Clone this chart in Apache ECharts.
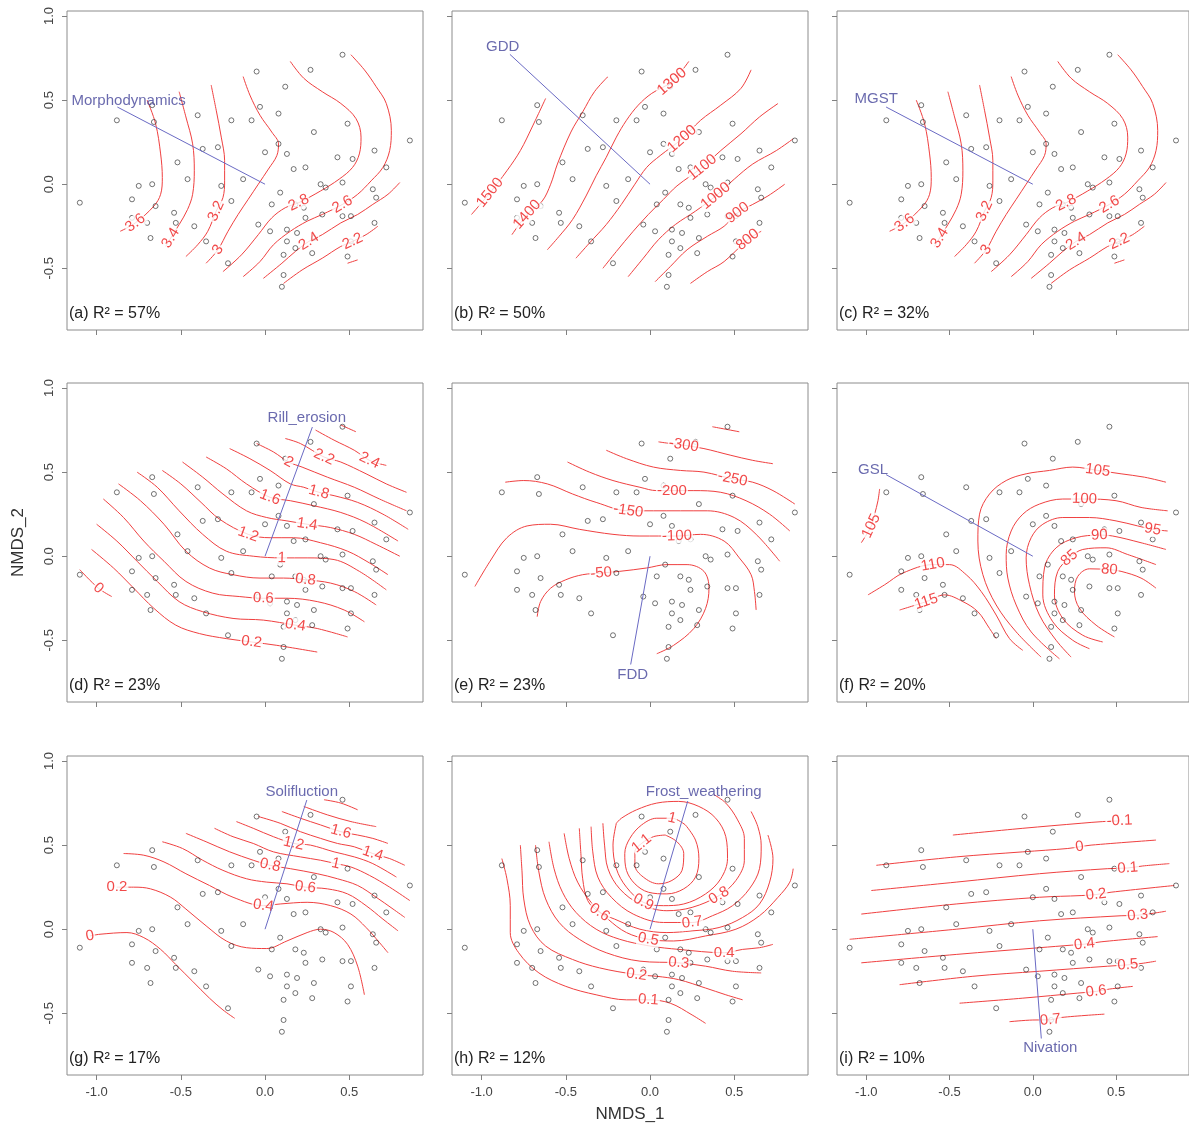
<!DOCTYPE html>
<html>
<head>
<meta charset="utf-8">
<script src="https://cdn.jsdelivr.net/npm/echarts@6/dist/echarts.min.js"></script>
<style>
  html, body { margin: 0; padding: 0; background: #ffffff; }
  #chart { width: 1189px; height: 1126px; }
</style>
</head>
<body>
<div id="chart"></div>
<script>
// NMDS site scores: [NMDS_1, NMDS_2]
const siteScores = [
  [-1.10,-0.11],[-0.88,0.38],[-0.67,0.47],[-0.66,0.37],[-0.75,-0.01],[-0.67,0.00],[-0.79,-0.09],[-0.79,-0.20],
  [-0.65,-0.13],[-0.70,-0.23],[-0.68,-0.32],[-0.52,0.13],[-0.37,0.21],[-0.40,0.41],[-0.28,0.22],[-0.46,0.03],
  [-0.54,-0.17],[-0.53,-0.23],[-0.42,-0.25],[-0.35,-0.34],[-0.22,-0.47],[-0.26,-0.01],[-0.20,-0.10],[-0.20,0.38],
  [-0.13,0.03],[-0.08,0.38],[-0.05,0.67],[-0.03,0.46],[0.00,0.19],[0.08,0.42],[0.08,0.24],[0.12,0.58],
  [0.13,0.18],[0.17,0.09],[0.24,0.10],[0.27,0.68],[0.29,0.31],[0.46,0.77],[0.49,0.36],[0.43,0.16],
  [0.52,0.15],[0.65,0.20],[0.72,0.10],[0.86,0.26],[0.33,0.00],[0.36,-0.02],[0.46,0.01],[0.64,-0.03],
  [0.66,-0.08],[0.09,-0.05],[0.04,-0.12],[0.18,-0.12],[0.23,-0.14],[0.24,-0.20],[0.34,-0.18],[0.46,-0.19],
  [0.51,-0.19],[0.65,-0.23],[-0.04,-0.24],[0.03,-0.28],[0.13,-0.27],[0.19,-0.29],[0.29,-0.32],[0.13,-0.34],
  [0.18,-0.38],[0.11,-0.42],[0.28,-0.41],[0.51,-0.34],[0.49,-0.43],[0.11,-0.54],[0.10,-0.61]
];

const panelTags = ['a', 'b', 'c', 'd', 'e', 'f', 'g', 'h', 'i'];
const panelR2 = [57, 50, 32, 23, 23, 20, 17, 12, 10];

// fitted environmental vectors
const vectorNames = ['Morphodynamics', 'GDD', 'MGST', 'Rill_erosion', 'FDD', 'GSL', 'Solifluction', 'Frost_weathering', 'Nivation'];
const vectorTips = [[-0.877,0.459],[-0.832,0.772],[-0.881,0.459],[0.281,0.768],[-0.115,-0.644],[-0.881,0.485],[0.248,0.768],[0.224,0.762],[0.051,-0.650]];
const vectorNameAt = [[-0.81,0.495],[-0.875,0.816],[-0.941,0.505],[0.248,0.823],[-0.103,-0.703],[-0.960,0.515],[0.218,0.818],[0.319,0.818],[0.105,-0.703]];

const xTicks = [-1.0, -0.5, 0.0, 0.5];
const yTicks = [-0.5, 0.0, 0.5, 1.0];
const xRange = [-1.176, 0.938];
const yRange = [-0.867, 1.030];

// ordisurf isolines: [level, vertices, label anchor]
const isoA = [
  ['3.6', [[-0.70,0.50],[-0.65,0.36],[-0.62,0.18],[-0.61,0.04],[-0.62,-0.06],[-0.66,-0.13],[-0.77,-0.23],[-0.86,-0.28]], [-0.77,-0.23]],
  ['3.4', [[-0.51,0.55],[-0.47,0.40],[-0.43,0.24],[-0.42,0.08],[-0.43,-0.06],[-0.46,-0.15],[-0.51,-0.24],[-0.56,-0.32],[-0.59,-0.37]], [-0.56,-0.32]],
  ['3.2', [[-0.32,0.59],[-0.29,0.44],[-0.26,0.28],[-0.24,0.14],[-0.24,0.02],[-0.25,-0.08],[-0.29,-0.16],[-0.34,-0.28],[-0.40,-0.36],[-0.47,-0.43]], [-0.29,-0.16]],
  ['3', [[-0.13,0.64],[-0.09,0.53],[-0.03,0.41],[0.04,0.31],[0.08,0.24],[0.07,0.17],[0.02,0.09],[-0.04,0.00],[-0.10,-0.09],[-0.16,-0.18],[-0.22,-0.28],[-0.28,-0.39],[-0.35,-0.47]], [-0.28,-0.39]],
  ['2.8', [[0.15,0.73],[0.23,0.63],[0.34,0.55],[0.45,0.48],[0.54,0.39],[0.57,0.28],[0.56,0.18],[0.52,0.10],[0.44,0.03],[0.33,-0.04],[0.20,-0.11],[0.12,-0.14],[0.04,-0.20],[-0.04,-0.30],[-0.14,-0.42],[-0.25,-0.52]], [0.20,-0.11]],
  ['2.6', [[0.51,0.77],[0.59,0.68],[0.66,0.58],[0.72,0.48],[0.75,0.32],[0.74,0.20],[0.70,0.10],[0.63,0.02],[0.55,-0.06],[0.46,-0.12],[0.34,-0.18],[0.25,-0.22],[0.15,-0.28],[0.05,-0.36],[-0.03,-0.46],[-0.13,-0.55]], [0.46,-0.12]],
  ['2.4', [[0.80,0.01],[0.73,-0.06],[0.64,-0.12],[0.55,-0.18],[0.45,-0.23],[0.34,-0.30],[0.26,-0.34],[0.18,-0.40],[0.10,-0.47],[-0.01,-0.56]], [0.26,-0.34]],
  ['2.2', [[0.67,-0.25],[0.60,-0.30],[0.52,-0.34],[0.45,-0.37],[0.34,-0.44],[0.22,-0.51],[0.11,-0.59]], [0.52,-0.34]],
  ['', [[0.49,-0.47],[0.55,-0.45]], null]
];

const isoB = [
  ['1500', [[-1.06,-0.18],[-0.95,-0.05],[-0.85,0.08],[-0.77,0.20],[-0.70,0.34],[-0.62,0.51]], [-0.95,-0.05]],
  ['1400', [[-0.82,-0.30],[-0.73,-0.18],[-0.64,-0.10],[-0.59,0.00],[-0.55,0.12],[-0.47,0.31],[-0.40,0.43],[-0.33,0.55],[-0.25,0.64]], [-0.73,-0.18]],
  ['1300', [[-0.61,-0.39],[-0.54,-0.31],[-0.46,-0.21],[-0.38,-0.07],[-0.32,0.05],[-0.26,0.16],[-0.20,0.28],[-0.14,0.38],[-0.07,0.47],[0.01,0.54],[0.13,0.61],[0.23,0.73]], [0.13,0.61]],
  ['1200', [[-0.44,-0.44],[-0.36,-0.35],[-0.26,-0.24],[-0.17,-0.12],[-0.09,0.00],[-0.02,0.10],[0.06,0.17],[0.19,0.27],[0.30,0.38],[0.42,0.47],[0.54,0.57],[0.60,0.68]], [0.19,0.27]],
  ['1100', [[-0.28,-0.50],[-0.20,-0.40],[-0.10,-0.28],[-0.01,-0.18],[0.08,-0.09],[0.16,-0.01],[0.31,0.10],[0.42,0.20],[0.54,0.30],[0.65,0.40],[0.76,0.48]], [0.31,0.10]],
  ['1000', [[-0.13,-0.55],[-0.04,-0.44],[0.05,-0.33],[0.15,-0.24],[0.27,-0.16],[0.39,-0.07],[0.50,0.03],[0.61,0.12],[0.75,0.20],[0.85,0.27]], [0.39,-0.07]],
  ['900', [[0.03,-0.58],[0.12,-0.49],[0.22,-0.39],[0.34,-0.31],[0.44,-0.25],[0.52,-0.17],[0.61,-0.12],[0.70,-0.07],[0.80,0.00]], [0.52,-0.17]],
  ['800', [[0.24,-0.59],[0.34,-0.52],[0.44,-0.46],[0.58,-0.33],[0.66,-0.28]], [0.58,-0.33]]
];

// (c) carries the same isolines as (a)
const isoC = isoA;

const isoD = [
  ['0', [[-1.10,-0.08],[-0.99,-0.19],[-0.91,-0.24]], [-0.99,-0.19]],
  ['0.2', [[-1.03,0.04],[-0.90,-0.07],[-0.78,-0.19],[-0.66,-0.31],[-0.53,-0.41],[-0.39,-0.46],[-0.23,-0.49],[-0.08,-0.51],[0.07,-0.53],[0.31,-0.57]], [-0.08,-0.51]],
  ['0.4', [[-1.00,0.19],[-0.88,0.09],[-0.76,-0.03],[-0.64,-0.15],[-0.51,-0.27],[-0.37,-0.33],[-0.19,-0.37],[-0.01,-0.38],[0.18,-0.41],[0.31,-0.43],[0.49,-0.48]], [0.18,-0.41]],
  ['0.6', [[-0.96,0.34],[-0.84,0.23],[-0.72,0.09],[-0.60,-0.03],[-0.47,-0.15],[-0.31,-0.22],[-0.15,-0.24],[-0.01,-0.25],[0.13,-0.25],[0.31,-0.27],[0.47,-0.32],[0.59,-0.39]], [-0.01,-0.25]],
  ['0.8', [[-0.87,0.43],[-0.74,0.33],[-0.60,0.19],[-0.47,0.03],[-0.33,-0.07],[-0.19,-0.11],[-0.03,-0.13],[0.11,-0.13],[0.24,-0.14],[0.39,-0.16],[0.53,-0.21],[0.66,-0.29]], [0.24,-0.14]],
  ['1', [[-0.76,0.50],[-0.64,0.41],[-0.51,0.27],[-0.37,0.13],[-0.23,0.03],[-0.07,0.00],[0.10,-0.01],[0.25,-0.01],[0.41,-0.02],[0.56,-0.09],[0.72,-0.20]], [0.10,-0.01]],
  ['1.2', [[-0.61,0.51],[-0.50,0.43],[-0.38,0.32],[-0.27,0.22],[-0.10,0.13],[0.03,0.11],[0.17,0.11],[0.33,0.08],[0.49,0.03],[0.62,-0.04],[0.73,-0.11]], [-0.10,0.13]],
  ['1.4', [[-0.49,0.56],[-0.37,0.47],[-0.25,0.37],[-0.11,0.27],[0.01,0.23],[0.13,0.21],[0.25,0.19],[0.39,0.17],[0.53,0.13],[0.66,0.07],[0.80,0.00]], [0.25,0.19]],
  ['1.6', [[-0.35,0.59],[-0.23,0.52],[-0.11,0.43],[0.03,0.35],[0.15,0.33],[0.29,0.30],[0.45,0.26],[0.60,0.20],[0.79,0.09]], [0.03,0.35]],
  ['1.8', [[-0.21,0.64],[-0.09,0.58],[0.03,0.51],[0.15,0.43],[0.23,0.41],[0.32,0.38],[0.41,0.36],[0.55,0.32],[0.70,0.25],[0.85,0.16]], [0.32,0.38]],
  ['2', [[-0.05,0.67],[0.05,0.62],[0.14,0.56],[0.22,0.53],[0.37,0.47],[0.53,0.41],[0.68,0.34],[0.84,0.27]], [0.14,0.56]],
  ['2.2', [[0.12,0.70],[0.21,0.67],[0.35,0.59],[0.45,0.56],[0.60,0.49],[0.72,0.43],[0.84,0.38]], [0.35,0.59]],
  ['2.4', [[0.30,0.75],[0.41,0.69],[0.53,0.63],[0.62,0.57],[0.72,0.54]], [0.62,0.57]],
  ['', [[0.45,0.78],[0.54,0.74]], null]
];

const isoE = [
  ['-300', [[0.05,0.68],[0.12,0.67],[0.20,0.66],[0.32,0.64],[0.48,0.60],[0.61,0.57],[0.73,0.55]], [0.20,0.66]],
  ['', [[0.37,0.77],[0.53,0.74]], null],
  ['-250', [[-0.26,0.63],[-0.14,0.58],[0.02,0.53],[0.18,0.51],[0.32,0.50],[0.49,0.46],[0.61,0.44],[0.73,0.39],[0.86,0.31]], [0.49,0.46]],
  ['-200', [[-0.49,0.56],[-0.36,0.50],[-0.22,0.45],[-0.06,0.41],[0.04,0.39],[0.13,0.39],[0.26,0.39],[0.42,0.38],[0.57,0.33],[0.71,0.25],[0.83,0.15]], [0.13,0.39]],
  ['-150', [[-0.86,0.44],[-0.75,0.45],[-0.61,0.43],[-0.46,0.37],[-0.32,0.32],[-0.13,0.27],[0.02,0.27],[0.18,0.27],[0.34,0.27],[0.50,0.23],[0.63,0.13],[0.77,-0.03]], [-0.13,0.27]],
  ['-100', [[-1.04,-0.18],[-0.95,-0.03],[-0.85,0.11],[-0.73,0.18],[-0.59,0.19],[-0.42,0.16],[-0.22,0.13],[-0.06,0.12],[0.16,0.12],[0.30,0.13],[0.44,0.09],[0.53,-0.01],[0.60,-0.11],[0.62,-0.21],[0.63,-0.32]], [0.16,0.12]],
  ['-50', [[-0.67,-0.36],[-0.65,-0.27],[-0.59,-0.19],[-0.50,-0.14],[-0.40,-0.11],[-0.29,-0.10],[-0.18,-0.09],[-0.02,-0.07],[0.10,-0.05],[0.22,-0.05],[0.32,-0.09],[0.35,-0.19],[0.33,-0.31],[0.26,-0.43],[0.14,-0.53],[0.04,-0.58]], [-0.29,-0.10]]
];

const isoF = [
  ['105', [[-0.92,0.40],[-0.93,0.33],[-0.95,0.25],[-0.97,0.18],[-1.03,0.08]], [-0.97,0.18]],
  ['115', [[-0.80,-0.32],[-0.64,-0.27],[-0.53,-0.23],[-0.42,-0.27],[-0.33,-0.33],[-0.26,-0.43],[-0.22,-0.49]], [-0.64,-0.27]],
  ['110', [[-0.99,-0.23],[-0.89,-0.17],[-0.78,-0.10],[-0.60,-0.05],[-0.50,-0.05],[-0.40,-0.11],[-0.31,-0.21],[-0.22,-0.35],[-0.14,-0.49],[-0.06,-0.56]], [-0.60,-0.05]],
  ['105', [[0.80,0.44],[0.67,0.47],[0.53,0.49],[0.39,0.51],[0.24,0.53],[0.10,0.51],[-0.04,0.49],[-0.16,0.45],[-0.26,0.37],[-0.32,0.25],[-0.33,0.09],[-0.30,-0.11],[-0.22,-0.29],[-0.10,-0.45],[0.05,-0.60]], [0.39,0.51]],
  ['100', [[0.81,0.27],[0.65,0.29],[0.50,0.33],[0.31,0.34],[0.18,0.34],[0.04,0.31],[-0.06,0.25],[-0.13,0.15],[-0.16,0.01],[-0.15,-0.13],[-0.10,-0.29],[-0.01,-0.45],[0.16,-0.61]], [0.31,0.34]],
  ['95', [[0.81,0.15],[0.72,0.16],[0.63,0.18],[0.50,0.21],[0.34,0.23],[0.18,0.23],[0.06,0.19],[-0.01,0.11],[-0.04,-0.01],[-0.02,-0.17],[0.04,-0.35],[0.14,-0.50],[0.23,-0.60]], [0.72,0.16]],
  ['90', [[0.80,0.04],[0.65,0.08],[0.48,0.12],[0.40,0.125],[0.26,0.11],[0.14,0.05],[0.07,-0.07],[0.06,-0.23],[0.12,-0.39],[0.24,-0.50],[0.34,-0.55]], [0.40,0.125]],
  ['85', [[0.74,-0.05],[0.57,0.01],[0.44,0.05],[0.30,0.04],[0.22,-0.01],[0.15,-0.09],[0.13,-0.23],[0.18,-0.37],[0.30,-0.47],[0.42,-0.51]], [0.22,-0.01]],
  ['80', [[0.74,-0.19],[0.65,-0.13],[0.53,-0.09],[0.46,-0.08],[0.34,-0.075],[0.27,-0.12],[0.25,-0.21],[0.28,-0.31],[0.38,-0.41],[0.49,-0.48]], [0.46,-0.08]]
];

const isoG = [
  ['0', [[-1.04,-0.04],[-0.98,-0.03],[-0.82,-0.02],[-0.72,-0.05],[-0.62,-0.12],[-0.53,-0.21],[-0.43,-0.31],[-0.33,-0.41],[-0.25,-0.48],[-0.18,-0.53]], [-1.04,-0.04]],
  ['0.2', [[-0.88,0.25],[-0.78,0.25],[-0.68,0.24],[-0.56,0.19],[-0.47,0.12],[-0.35,0.02],[-0.23,-0.07],[-0.11,-0.11],[0.01,-0.115],[0.13,-0.07],[0.25,-0.02],[0.33,0.00],[0.41,-0.02],[0.49,-0.09],[0.55,-0.22],[0.59,-0.39]], [-0.88,0.25]],
  ['0.4', [[-0.84,0.45],[-0.72,0.44],[-0.60,0.40],[-0.47,0.33],[-0.33,0.26],[-0.19,0.19],[-0.01,0.14],[0.09,0.15],[0.25,0.16],[0.39,0.14],[0.51,0.09],[0.60,0.01],[0.68,-0.08],[0.73,-0.14]], [-0.01,0.14]],
  ['0.6', [[-0.61,0.52],[-0.49,0.48],[-0.37,0.41],[-0.25,0.35],[-0.11,0.30],[0.01,0.28],[0.13,0.27],[0.24,0.25],[0.37,0.24],[0.49,0.21],[0.60,0.14],[0.70,0.06],[0.79,-0.01]], [0.24,0.25]],
  ['0.8', [[-0.47,0.57],[-0.35,0.52],[-0.21,0.46],[-0.07,0.41],[0.03,0.38],[0.15,0.36],[0.31,0.33],[0.43,0.30],[0.55,0.26],[0.66,0.19],[0.76,0.12],[0.83,0.07]], [0.03,0.38]],
  ['1', [[-0.30,0.60],[-0.19,0.55],[-0.07,0.51],[0.05,0.46],[0.21,0.43],[0.33,0.41],[0.42,0.39],[0.51,0.37],[0.62,0.32],[0.74,0.25],[0.86,0.17]], [0.42,0.39]],
  ['1.2', [[-0.17,0.64],[-0.07,0.60],[0.05,0.55],[0.17,0.51],[0.27,0.50],[0.41,0.46],[0.53,0.43],[0.64,0.39],[0.78,0.31]], [0.17,0.51]],
  ['1.4', [[-0.04,0.67],[0.09,0.63],[0.21,0.58],[0.33,0.54],[0.43,0.51],[0.53,0.49],[0.64,0.45],[0.74,0.42],[0.83,0.38]], [0.64,0.45]],
  ['1.6', [[0.10,0.70],[0.21,0.66],[0.33,0.62],[0.45,0.58],[0.55,0.56],[0.64,0.54],[0.73,0.51]], [0.45,0.58]],
  ['', [[0.23,0.73],[0.37,0.68],[0.51,0.64],[0.66,0.61]], null],
  ['', [[0.35,0.77],[0.45,0.75],[0.55,0.71]], null]
];

const isoH = [
  ['0.1', [[-0.88,0.42],[-0.85,0.30],[-0.83,0.14],[-0.83,-0.02],[-0.78,-0.14],[-0.66,-0.26],[-0.50,-0.34],[-0.32,-0.39],[-0.14,-0.42],[-0.01,-0.42],[0.12,-0.44],[0.25,-0.51],[0.33,-0.56]], [-0.01,-0.42]],
  ['0.2', [[-0.77,0.50],[-0.76,0.34],[-0.75,0.18],[-0.71,0.02],[-0.62,-0.10],[-0.46,-0.18],[-0.30,-0.23],[-0.08,-0.27],[0.04,-0.28],[0.17,-0.30],[0.33,-0.35],[0.45,-0.39],[0.55,-0.42]], [-0.08,-0.27]],
  ['0.3', [[-0.68,0.50],[-0.66,0.34],[-0.62,0.18],[-0.54,0.04],[-0.42,-0.06],[-0.26,-0.14],[-0.06,-0.19],[0.17,-0.20],[0.33,-0.22],[0.49,-0.25],[0.66,-0.26]], [0.17,-0.20]],
  ['0.4', [[-0.60,0.52],[-0.57,0.36],[-0.52,0.22],[-0.44,0.10],[-0.32,0.00],[-0.18,-0.06],[0.00,-0.10],[0.17,-0.12],[0.44,-0.14],[0.55,-0.12],[0.65,-0.11],[0.73,-0.09]], [0.44,-0.14]],
  ['0.5', [[-0.51,0.57],[-0.48,0.42],[-0.43,0.28],[-0.35,0.16],[-0.25,0.06],[-0.14,-0.02],[-0.01,-0.06],[0.14,-0.07],[0.33,-0.04],[0.51,0.00],[0.65,0.08],[0.76,0.19],[0.83,0.28],[0.85,0.36]], [-0.01,-0.06]],
  ['0.6', [[-0.42,0.60],[-0.41,0.44],[-0.40,0.30],[-0.37,0.17],[-0.30,0.10],[-0.21,0.06],[-0.06,0.00],[0.10,-0.02],[0.25,-0.01],[0.41,0.01],[0.55,0.07],[0.65,0.15],[0.71,0.28],[0.73,0.42],[0.70,0.56]], [-0.30,0.10]],
  ['0.7', [[-0.35,0.61],[-0.34,0.46],[-0.31,0.31],[-0.23,0.19],[-0.10,0.09],[0.08,0.04],[0.25,0.04],[0.37,0.08],[0.49,0.14],[0.59,0.24],[0.65,0.36],[0.66,0.50],[0.64,0.61],[0.60,0.70]], [0.25,0.04]],
  ['0.8', [[-0.28,0.63],[-0.27,0.50],[-0.25,0.36],[-0.18,0.24],[-0.06,0.15],[0.10,0.11],[0.25,0.13],[0.41,0.20],[0.51,0.29],[0.56,0.41],[0.56,0.54],[0.52,0.65],[0.45,0.75],[0.38,0.80]], [0.41,0.20]],
  ['0.9', [[-0.20,0.63],[-0.22,0.50],[-0.20,0.36],[-0.14,0.25],[-0.04,0.16],[0.08,0.14],[0.20,0.15],[0.33,0.21],[0.42,0.30],[0.46,0.42],[0.45,0.55],[0.39,0.66],[0.29,0.73],[0.17,0.76],[0.04,0.75],[-0.08,0.71],[-0.17,0.66],[-0.20,0.63]], [-0.04,0.16]],
  ['1', [[0.21,0.62],[0.27,0.53],[0.29,0.42],[0.27,0.31],[0.20,0.24],[0.10,0.21],[-0.01,0.22],[-0.09,0.27],[-0.14,0.35],[-0.15,0.45],[-0.12,0.54],[-0.05,0.62],[0.04,0.66],[0.13,0.66],[0.21,0.62]], [0.13,0.66]],
  ['1.1', [[0.09,0.56],[0.16,0.52],[0.20,0.45],[0.19,0.35],[0.13,0.29],[0.05,0.27],[-0.04,0.31],[-0.09,0.38],[-0.09,0.46],[-0.05,0.51],[0.02,0.55],[0.09,0.56]], [-0.05,0.51]]
];

const isoI = [
  ['-0.1', [[-0.48,0.56],[-0.06,0.60],[0.29,0.63],[0.42,0.64],[0.52,0.644]], [0.52,0.644]],
  ['0', [[-0.94,0.38],[-0.46,0.43],[-0.06,0.46],[0.21,0.48],[0.28,0.49],[0.35,0.50],[0.74,0.53]], [0.28,0.49]],
  ['0.1', [[-0.97,0.23],[-0.46,0.28],[0.04,0.33],[0.45,0.36],[0.57,0.364],[0.66,0.376],[0.82,0.39]], [0.57,0.364]],
  ['0.2', [[-1.03,0.09],[-0.46,0.15],[0.04,0.19],[0.29,0.20],[0.38,0.206],[0.47,0.22],[0.85,0.26]], [0.38,0.206]],
  ['0.3', [[-1.10,-0.06],[-0.46,0.00],[0.04,0.05],[0.53,0.08],[0.63,0.083],[0.80,0.107]], [0.63,0.083]],
  ['0.4', [[-1.03,-0.20],[-0.46,-0.15],[0.04,-0.11],[0.23,-0.095],[0.31,-0.089],[0.41,-0.075],[0.75,-0.044]], [0.31,-0.089]],
  ['0.5', [[-0.80,-0.33],[-0.36,-0.28],[0.04,-0.25],[0.45,-0.22],[0.57,-0.212],[0.65,-0.204],[0.74,-0.19]], [0.57,-0.212]],
  ['0.6', [[-0.44,-0.44],[-0.06,-0.41],[0.27,-0.38],[0.38,-0.37],[0.46,-0.356],[0.60,-0.34]], [0.38,-0.37]],
  ['0.7', [[-0.14,-0.55],[0.00,-0.54],[0.105,-0.539],[0.17,-0.525],[0.43,-0.505]], [0.105,-0.539]]
];

const panelIsolines = [isoA, isoB, isoC, isoD, isoE, isoF, isoG, isoH, isoI];

// ---- layout ----
const FONT = '"Liberation Sans", Arial, sans-serif';
const colLeft = [67, 452, 837];
const rowTop = [11, 383, 756];
const panelW = 356;
const panelH = 319;

// text angle of an isoline at its label, from the neighbouring vertices
function labelAngle(line, at) {
  let best = 0, bd = Infinity;
  line.forEach((p, i) => {
    const d = (p[0] - at[0]) ** 2 + (p[1] - at[1]) ** 2;
    if (d < bd) { bd = d; best = i; }
  });
  const a = line[Math.max(0, best - 1)];
  const b = line[Math.min(line.length - 1, best + 1)];
  let ang = Math.atan2(b[1] - a[1], b[0] - a[0]) * 180 / Math.PI;
  if (ang > 90) ang -= 180;
  if (ang < -90) ang += 180;
  return ang;
}

const grids = [], xAxes = [], yAxes = [], series = [], titles = [];

for (let k = 0; k < 9; k++) {
  const col = k % 3, row = Math.floor(k / 3);
  grids.push({
    left: colLeft[col], top: rowTop[row], width: panelW, height: panelH,
    show: true, borderColor: '#8c8c8c', borderWidth: 1, backgroundColor: 'transparent',
    containLabel: false
  });
  xAxes.push({
    gridIndex: k, type: 'value', min: xRange[0], max: xRange[1], position: 'bottom',
    axisLine: { show: false, onZero: false }, splitLine: { show: false },
    axisTick: { show: true, inside: false, length: 5, lineStyle: { color: '#808080' }, customValues: xTicks },
    axisLabel: {
      show: row === 2, customValues: xTicks, margin: 11,
      formatter: v => v.toFixed(1), fontSize: 13, color: '#444', fontFamily: FONT
    },
    name: k === 7 ? 'NMDS_1' : '', nameLocation: 'middle', nameGap: 31,
    nameTextStyle: { fontSize: 17, color: '#333', fontFamily: FONT }
  });
  yAxes.push({
    gridIndex: k, type: 'value', min: yRange[0], max: yRange[1], position: 'left',
    axisLine: { show: false, onZero: false }, splitLine: { show: false },
    axisTick: { show: true, inside: false, length: 5, lineStyle: { color: '#808080' }, customValues: yTicks },
    axisLabel: {
      show: col === 0, customValues: yTicks, margin: 11, rotate: 90,
      formatter: v => v.toFixed(1), fontSize: 13, color: '#444', fontFamily: FONT
    },
    name: k === 3 ? 'NMDS_2' : '', nameLocation: 'middle', nameGap: 40,
    nameTextStyle: { fontSize: 17, color: '#333', fontFamily: FONT }
  });

  // isolines
  const iso = panelIsolines[k];
  iso.forEach(([lev, pts]) => {
    series.push({
      type: 'line', xAxisIndex: k, yAxisIndex: k, data: pts,
      smooth: 0.35, showSymbol: false, symbol: 'none', silent: true, animation: false, z: 2,
      lineStyle: { color: '#f04040', width: 1 }
    });
  });

  // site points
  series.push({
    type: 'scatter', xAxisIndex: k, yAxisIndex: k, data: siteScores,
    symbol: 'circle', symbolSize: 5, silent: true, animation: false, z: 3,
    itemStyle: { color: 'rgba(255,255,255,0)', borderColor: '#262626', borderWidth: 0.8 }
  });

  // isoline labels
  series.push({
    type: 'scatter', xAxisIndex: k, yAxisIndex: k, symbolSize: 0, silent: true, animation: false, z: 4,
    data: iso.filter(c => c[2]).map(([lev, pts, at]) => ({
      value: at, label: { formatter: lev, rotate: labelAngle(pts, at) }
    })),
    label: {
      show: true, position: 'inside', color: '#ee1c1c', fontSize: 15, fontFamily: FONT,
      backgroundColor: '#ffffff', padding: [0, 1]
    }
  });

  // fitted vector arrow and its name
  series.push({
    type: 'scatter', xAxisIndex: k, yAxisIndex: k, symbolSize: 0, silent: true, animation: false, z: 6,
    data: [{ value: vectorNameAt[k] }],
    label: {
      show: true, position: 'inside', formatter: vectorNames[k],
      color: '#45459a', fontSize: 15, fontFamily: FONT
    },
    markLine: {
      silent: true, animation: false, symbol: ['none', 'arrow'], symbolSize: [0, 6],
      lineStyle: { color: '#6a6ac4', width: 1, type: 'solid' },
      label: { show: false }, emphasis: { disabled: true },
      data: [[{ coord: [0, 0] }, { coord: vectorTips[k] }]]
    }
  });

  titles.push({
    text: '(' + panelTags[k] + ') R\u00b2 = ' + panelR2[k] + '%',
    left: colLeft[col] + 2, top: rowTop[row] + 295, padding: 0,
    textStyle: { fontSize: 16, fontWeight: 'normal', color: '#222', fontFamily: FONT }
  });
}

const chart = echarts.init(document.getElementById('chart'), null, { renderer: 'canvas' });
chart.setOption({
  animation: false,
  backgroundColor: '#ffffff',
  title: titles,
  grid: grids,
  xAxis: xAxes,
  yAxis: yAxes,
  series: series
});
</script>
</body>
</html>
